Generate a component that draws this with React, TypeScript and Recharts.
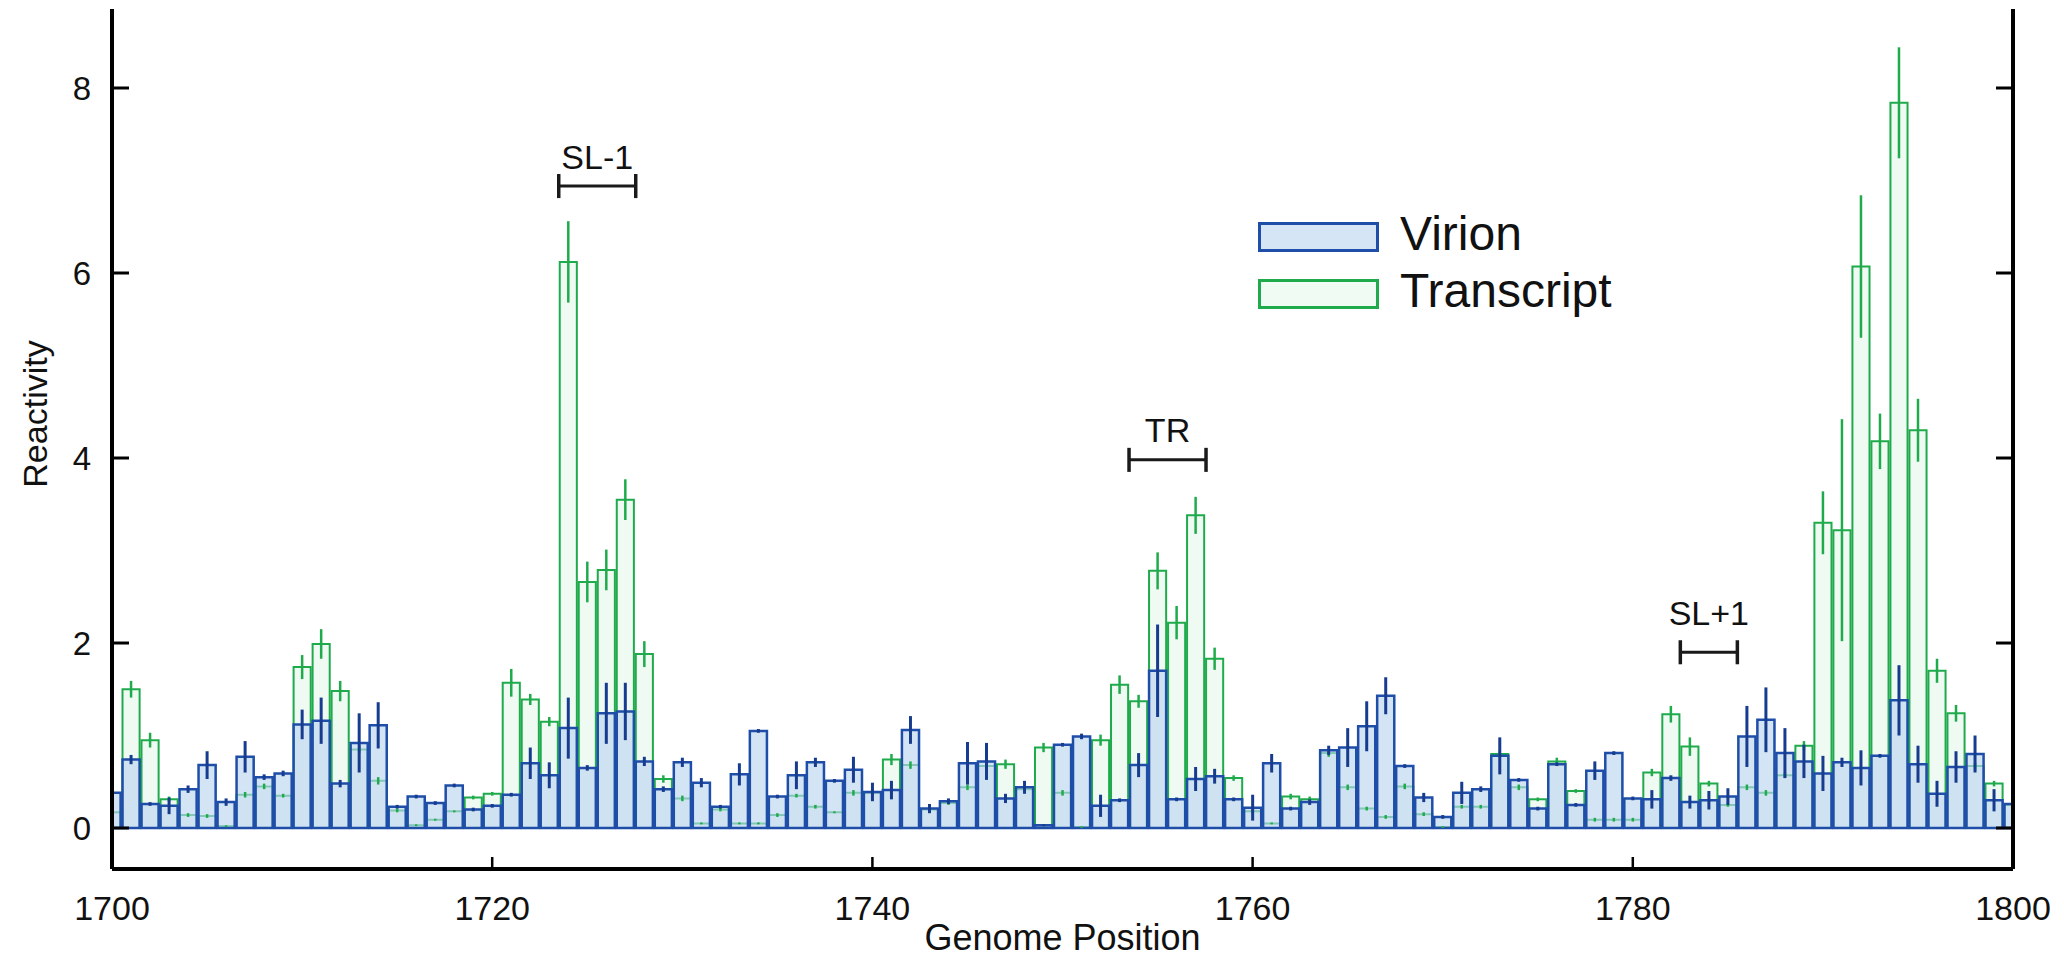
import React from "react"
import {
  Bar,
  ComposedChart,
  ErrorBar,
  Legend,
  ReferenceDot,
  ReferenceLine,
  XAxis,
  YAxis,
} from "recharts"

// genome positions 1700..1800, one bar per nucleotide
const positions = Array.from({ length: 101 }, (_, i) => 1700 + i)

// Virion reactivity, 10 per row starting at 1700
const virion = [
  0.38, 0.74, 0.26, 0.24, 0.42, 0.68, 0.28, 0.77, 0.55, 0.59,
  1.12, 1.16, 0.48, 0.92, 1.11, 0.23, 0.34, 0.27, 0.46, 0.2,
  0.24, 0.36, 0.7, 0.57, 1.08, 0.65, 1.24, 1.26, 0.72, 0.42,
  0.71, 0.49, 0.23, 0.58, 1.05, 0.34, 0.57, 0.71, 0.51, 0.63,
  0.39, 0.41, 1.06, 0.21, 0.29, 0.7, 0.72, 0.32, 0.44, 0.03,
  0.9, 0.99, 0.24, 0.3, 0.68, 1.7, 0.31, 0.53, 0.56, 0.31,
  0.22, 0.7, 0.21, 0.28, 0.84, 0.87, 1.1, 1.43, 0.67, 0.33,
  0.12, 0.38, 0.42, 0.78, 0.52, 0.21, 0.69, 0.25, 0.62, 0.81,
  0.32, 0.31, 0.54, 0.28, 0.3, 0.34, 0.99, 1.17, 0.81, 0.72,
  0.59, 0.71, 0.65, 0.78, 1.38, 0.69, 0.37, 0.66, 0.8, 0.3,
  0.26,
]

const virionErr = [
  0.03, 0.05, 0.02, 0.09, 0.04, 0.15, 0.04, 0.17, 0.03, 0.03,
  0.16, 0.25, 0.04, 0.32, 0.25, 0.02, 0.02, 0.02, 0.02, 0.02,
  0.02, 0.02, 0.17, 0.14, 0.33, 0.03, 0.33, 0.31, 0.05, 0.03,
  0.05, 0.05, 0.02, 0.12, 0.02, 0.02, 0.15, 0.05, 0.02, 0.14,
  0.1, 0.1, 0.15, 0.05, 0.03, 0.23, 0.2, 0.05, 0.07, 0.01,
  0.02, 0.03, 0.12, 0.02, 0.13, 0.5, 0.02, 0.13, 0.08, 0.02,
  0.14, 0.1, 0.02, 0.03, 0.05, 0.21, 0.27, 0.2, 0.02, 0.05,
  0.02, 0.12, 0.03, 0.2, 0.02, 0.02, 0.02, 0.02, 0.1, 0.02,
  0.02, 0.1, 0.03, 0.07, 0.1, 0.09, 0.33, 0.35, 0.27, 0.18,
  0.19, 0.05, 0.19, 0.02, 0.38, 0.2, 0.14, 0.17, 0.2, 0.12,
  0.05,
]

// Transcript reactivity
const transcript = [
  0.17, 1.5, 0.95, 0.31, 0.14, 0.13, 0.02, 0.36, 0.45, 0.35,
  1.74, 1.99, 1.48, 0.85, 0.51, 0.19, 0.03, 0.09, 0.18, 0.33,
  0.37, 1.57, 1.39, 1.15, 6.12, 2.66, 2.79, 3.55, 1.88, 0.53,
  0.32, 0.05, 0.2, 0.05, 0.05, 0.14, 0.35, 0.23, 0.17, 0.38,
  0.38, 0.74, 0.68, 0.2, 0.27, 0.44, 0.67, 0.69, 0.42, 0.87,
  0.38, 0.01, 0.95, 1.55, 1.37, 2.78, 2.22, 3.38, 1.83, 0.54,
  0.18, 0.05, 0.34, 0.31, 0.81, 0.44, 0.21, 0.12, 0.45, 0.15,
  0.01, 0.23, 0.23, 0.8, 0.44, 0.31, 0.72, 0.4, 0.09, 0.09,
  0.09, 0.6, 1.23, 0.88, 0.48, 0.25, 0.44, 0.38, 0.57, 0.89,
  3.3, 3.22, 6.07, 4.18, 7.84, 4.3, 1.7, 1.24, 0.67, 0.48,
  0.25,
]

const transcriptErr = [
  0.02, 0.09, 0.08, 0.03, 0.02, 0.02, 0.01, 0.03, 0.03, 0.02,
  0.13, 0.16, 0.11, 0.04, 0.04, 0.02, 0.01, 0.01, 0.01, 0.02,
  0.02, 0.15, 0.06, 0.05, 0.44, 0.22, 0.22, 0.22, 0.14, 0.04,
  0.03, 0.01, 0.02, 0.01, 0.01, 0.02, 0.02, 0.02, 0.01, 0.03,
  0.03, 0.06, 0.04, 0.02, 0.02, 0.03, 0.03, 0.05, 0.03, 0.05,
  0.03, 0.01, 0.06, 0.1, 0.07, 0.2, 0.18, 0.2, 0.12, 0.03,
  0.02, 0.01, 0.03, 0.03, 0.04, 0.03, 0.02, 0.02, 0.03, 0.02,
  0.01, 0.02, 0.02, 0.04, 0.03, 0.02, 0.04, 0.02, 0.02, 0.02,
  0.02, 0.04, 0.09, 0.1, 0.03, 0.02, 0.03, 0.03, 0.03, 0.05,
  0.34, 1.2, 0.77, 0.3, 0.6, 0.34, 0.13, 0.09, 0.04, 0.03,
  0.02,
]

const xTicks = [1700, 1720, 1740, 1760, 1780, 1800]
const yTicks = [0, 2, 4, 6, 8]

// structural element brackets
const regions = [
  { name: "SL-1", from: 1723.5, to: 1727.55, y: 6.94, labelY: 7.26 },
  { name: "TR", from: 1753.5, to: 1757.55, y: 3.98, labelY: 4.3 },
  { name: "SL+1", from: 1782.5, to: 1785.5, y: 1.9, labelY: 2.32 },
]

const data = positions.map((pos, i) => ({
  pos,
  virion: virion[i],
  virionErr: virionErr[i],
  transcript: transcript[i],
  transcriptErr: transcriptErr[i],
}))

const W = 2064
const H = 957
const LEFT = 112
const RIGHT = 51
const BAR_W = (W - LEFT - RIGHT) / 100
const CAP = 0.13

const VIRION_STROKE = "#1f4ea8"
const VIRION_ERR = "#173c8f"
const TRANSCRIPT_STROKE = "#1fab4c"
const FONT = "'Liberation Sans', Arial, Helvetica, sans-serif"

function BottomTick(props: any) {
  const { x, y, payload } = props
  return (
    <g>
      <line x1={x} x2={x} y1={y} y2={y - 12} stroke="#000" strokeWidth={2.5} />
      <text x={x} y={y + 51} textAnchor="middle" fontSize={34} fill="#111">
        {payload.value}
      </text>
    </g>
  )
}

function LeftTick(props: any) {
  const { x, y, payload } = props
  return (
    <g>
      <line x1={x} x2={x + 17} y1={y} y2={y} stroke="#000" strokeWidth={3} />
      <text x={x - 21} y={y} dy="0.36em" textAnchor="end" fontSize={33} fill="#111">
        {payload.value}
      </text>
    </g>
  )
}

function RightTick(props: any) {
  const { x, y } = props
  return <line x1={x} x2={x - 17} y1={y} y2={y} stroke="#000" strokeWidth={3} />
}

function LegendBox() {
  const items = [
    { label: "Virion", fill: "#d5e5f6", stroke: VIRION_STROKE },
    { label: "Transcript", fill: "#f0fbf4", stroke: TRANSCRIPT_STROKE },
  ]
  return (
    <div>
      {items.map((it) => (
        <div
          key={it.label}
          style={{ display: "flex", alignItems: "center", height: 57 }}
        >
          <div
            style={{
              width: 121,
              height: 30,
              boxSizing: "border-box",
              background: it.fill,
              border: `3px solid ${it.stroke}`,
            }}
          />
          <span
            style={{
              marginLeft: 21,
              fontSize: 48,
              lineHeight: "57px",
              color: "#111",
              position: "relative",
              top: -3,
            }}
          >
            {it.label}
          </span>
        </div>
      ))}
    </div>
  )
}

export default function App() {
  return (
    <div
      style={{
        position: "absolute",
        left: 0,
        top: 0,
        width: W,
        height: H,
        background: "#fff",
        fontFamily: FONT,
      }}
    >
      <ComposedChart
        width={W}
        height={H}
        data={data}
        margin={{ top: 9, right: 0, bottom: 0, left: 0 }}
        barGap={0}
        barCategoryGap={0}
      >
        <XAxis
          xAxisId="t"
          dataKey="pos"
          type="number"
          domain={[1700, 1800]}
          allowDataOverflow
          ticks={xTicks}
          height={88}
          tickSize={0}
          tickMargin={0}
          tickLine={false}
          axisLine={{ stroke: "#000", strokeWidth: 4 }}
          tick={(p: any) => <BottomTick {...p} />}
          label={{
            value: "Genome Position",
            position: "insideBottom",
            offset: 7,
            fontSize: 36,
            fill: "#111",
          }}
        />
        <XAxis
          xAxisId="v"
          dataKey="pos"
          type="number"
          domain={[1700, 1800]}
          allowDataOverflow
          hide
        />
        <YAxis
          yAxisId="l"
          domain={[-0.443, 8.854]}
          allowDataOverflow
          ticks={yTicks}
          width={LEFT}
          tickSize={0}
          tickMargin={0}
          tickLine={false}
          axisLine={{ stroke: "#000", strokeWidth: 4 }}
          tick={(p: any) => <LeftTick {...p} />}
          label={{
            content: (lp: any) => {
              const vb = lp.viewBox
              const cx = vb.x + 35
              const cy = vb.y + vb.height / 2 - 25
              return (
                <text
                  x={cx}
                  y={cy}
                  transform={`rotate(-90 ${cx} ${cy})`}
                  textAnchor="middle"
                  dominantBaseline="central"
                  fontSize={34}
                  fill="#111"
                >
                  Reactivity
                </text>
              )
            },
          }}
        />
        <YAxis
          yAxisId="r"
          orientation="right"
          domain={[-0.443, 8.854]}
          allowDataOverflow
          ticks={yTicks}
          width={RIGHT}
          tickSize={0}
          tickMargin={0}
          tickLine={false}
          axisLine={{ stroke: "#000", strokeWidth: 4 }}
          tick={(p: any) => <RightTick {...p} />}
        />

        <Bar
          name="Transcript"
          xAxisId="t"
          yAxisId="l"
          dataKey="transcript"
          barSize={BAR_W}
          fill="#effaf3"
          stroke={TRANSCRIPT_STROKE}
          strokeWidth={2}
          isAnimationActive={false}
        >
          <ErrorBar
            dataKey="transcriptErr"
            direction="y"
            width={0}
            stroke={TRANSCRIPT_STROKE}
            strokeWidth={2.5}
            isAnimationActive={false}
          />
        </Bar>
        <Bar
          name="Virion"
          xAxisId="v"
          yAxisId="l"
          dataKey="virion"
          barSize={BAR_W}
          fill="#bcd6f0"
          fillOpacity={0.65}
          stroke={VIRION_STROKE}
          strokeWidth={2.5}
          isAnimationActive={false}
        >
          <ErrorBar
            dataKey="virionErr"
            direction="y"
            width={0}
            stroke={VIRION_ERR}
            strokeWidth={3}
            isAnimationActive={false}
          />
        </Bar>

        {regions.map((r) => (
          <ReferenceLine
            key={r.name + "-h"}
            xAxisId="t"
            yAxisId="l"
            segment={[
              { x: r.from, y: r.y },
              { x: r.to, y: r.y },
            ]}
            stroke="#1a1a1a"
            strokeWidth={3}
          />
        ))}
        {regions.map((r) => (
          <ReferenceLine
            key={r.name + "-a"}
            xAxisId="t"
            yAxisId="l"
            segment={[
              { x: r.from, y: r.y - CAP },
              { x: r.from, y: r.y + CAP },
            ]}
            stroke="#1a1a1a"
            strokeWidth={3.5}
          />
        ))}
        {regions.map((r) => (
          <ReferenceLine
            key={r.name + "-b"}
            xAxisId="t"
            yAxisId="l"
            segment={[
              { x: r.to, y: r.y - CAP },
              { x: r.to, y: r.y + CAP },
            ]}
            stroke="#1a1a1a"
            strokeWidth={3.5}
          />
        ))}
        {regions.map((r) => (
          <ReferenceDot
            key={r.name + "-l"}
            xAxisId="t"
            yAxisId="l"
            x={(r.from + r.to) / 2}
            y={r.labelY}
            r={1}
            fill="none"
            stroke="none"
            label={{ value: r.name, position: "center", fontSize: 34, fill: "#111" }}
          />
        ))}

        <Legend
          layout="vertical"
          align="center"
          verticalAlign="middle"
          wrapperStyle={{ left: 1258, top: 208, width: "auto", height: "auto" }}
          content={() => <LegendBox />}
        />
      </ComposedChart>
    </div>
  )
}
